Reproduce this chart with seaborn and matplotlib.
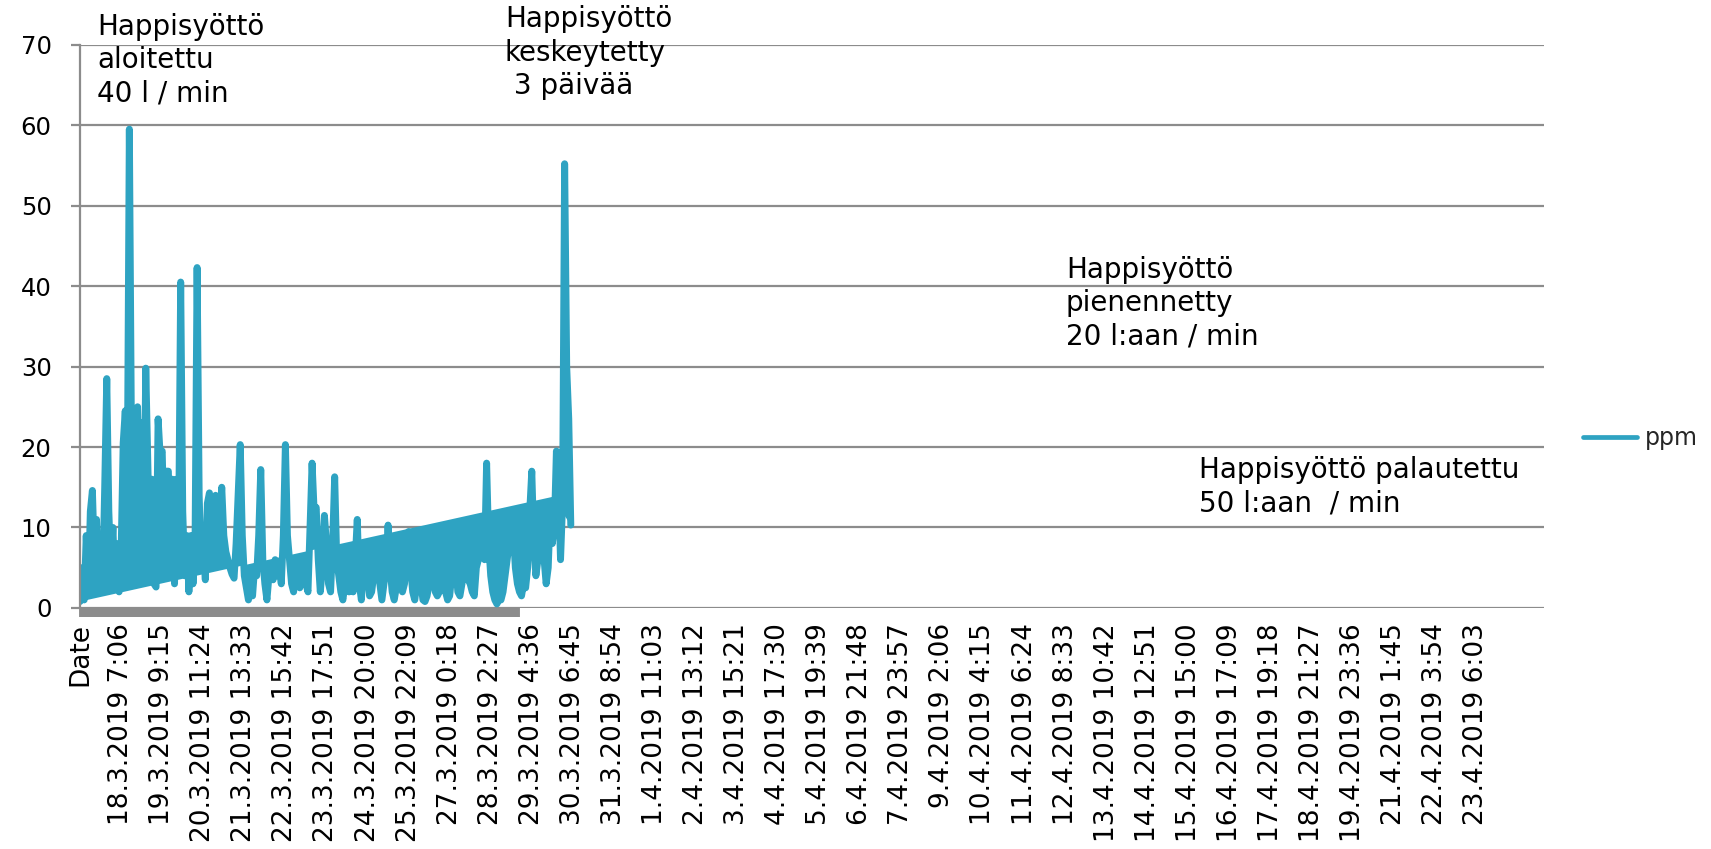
import numpy as np
import pandas as pd
import matplotlib
matplotlib.use("Agg")
import matplotlib.pyplot as plt
import seaborn as sns

# category labels shown on the x axis (every 20th row of the sheet)
date_labels = [
    "Date", "18.3.2019 7:06", "19.3.2019 9:15", "20.3.2019 11:24", "21.3.2019 13:33",
    "22.3.2019 15:42", "23.3.2019 17:51", "24.3.2019 20:00", "25.3.2019 22:09",
    "27.3.2019 0:18", "28.3.2019 2:27", "29.3.2019 4:36", "30.3.2019 6:45",
    "31.3.2019 8:54", "1.4.2019 11:03", "2.4.2019 13:12", "3.4.2019 15:21",
    "4.4.2019 17:30", "5.4.2019 19:39", "6.4.2019 21:48", "7.4.2019 23:57",
    "9.4.2019 2:06", "10.4.2019 4:15", "11.4.2019 6:24", "12.4.2019 8:33",
    "13.4.2019 10:42", "14.4.2019 12:51", "15.4.2019 15:00", "16.4.2019 17:09",
    "17.4.2019 19:18", "18.4.2019 21:27", "19.4.2019 23:36", "21.4.2019 1:45",
    "22.4.2019 3:54", "23.4.2019 6:03",
]
rows_per_label = 20
total_rows = 713

# ppm readings, one per row
ppm = [
    0.8, 5, 1, 9, 2, 12, 14.6, 6, 11, 2, 8, 3, 15, 28.5, 12, 5, 10, 2.5, 8, 2,
    7, 20.5, 24.5, 15, 59.5, 22, 10, 20, 25, 12, 23, 8, 29.8, 18, 6, 16, 3, 2.6, 23.5, 19,
    19.5, 8, 17, 17, 5, 16, 3, 16, 9, 40.5, 12, 4, 9, 2, 9, 3, 8, 42.3, 14, 5,
    8, 3.5, 13, 14.3, 7, 13.5, 14, 6, 10, 15, 9, 7, 6, 5, 4.2, 3.7, 8, 14, 20.3, 9,
    4, 2.5, 1, 3, 1.5, 5, 4, 9, 17.2, 6, 3, 1, 4, 5.5, 3.5, 6, 4, 5, 3, 9,
    20.3, 9, 6, 3, 2, 6, 3, 2.5, 6, 5, 3, 2, 10, 18, 12, 12.5, 6, 2, 5, 11.5,
    8, 3, 2, 8, 16.3, 6, 4, 2, 1, 3, 6, 2, 3.5, 2, 6, 11, 3, 1, 5, 7.8,
    4, 1.5, 2, 4, 5, 5, 3, 1, 3, 5, 10.3, 5, 2, 1, 2.5, 4.5, 4.5, 2, 3, 6,
    9.5, 5, 2, 1, 3, 5, 3, 1, 0.8, 1.5, 3, 6.5, 4, 2, 1.5, 2, 6.5, 5, 2, 1,
    1.5, 4, 4.5, 5, 2, 1.5, 3, 5, 6, 3.5, 3, 2, 1.5, 5, 6, 7, 8, 6, 18, 8,
    4, 2, 1, 0.5, 1, 1, 2, 4, 6, 8, 10, 9.5, 5, 3, 2, 1.5, 3, 2.5, 5, 12,
    17, 8, 4, 6, 11, 12.3, 6, 3, 5, 12, 8, 10, 19.5, 15, 6, 13, 55.2, 30, 23.5, 10.3,
]

# the jump back from the last row to the first one (sheet artefact)
trend_rows = [0, 230]
trend_ppm = [0.8, 13.8]
tick_rows = 214

notes = [
    "Happisyöttö\naloitettu\n40 l / min",
    "Happisyöttö\nkeskeytetty\n 3 päivää",
    "Happisyöttö\npienennetty\n20 l:aan / min",
    "Happisyöttö palautettu\n50 l:aan  / min",
]

sns.set_theme(style="white")
plt.rcParams["font.family"] = ["DejaVu Sans"]

line_color = "#2ea3c2"
grid_color = "#8c8c8c"

df = pd.DataFrame({"row": np.arange(len(ppm)), "ppm": ppm})

fig = plt.figure(figsize=(17.11, 8.49), dpi=100)
ax = fig.add_axes([0.0468, 0.2839, 0.8556, 0.6635])

ax.fill(np.r_[df["row"], trend_rows[::-1]], np.r_[df["ppm"], trend_ppm[::-1]],
        color=line_color, lw=0)
sns.lineplot(data=df, x="row", y="ppm", ax=ax, color=line_color, linewidth=5,
             estimator=None, label="ppm")
for ln in ax.lines:
    ln.set_solid_joinstyle("round")
    ln.set_solid_capstyle("round")

ax.set_ylim(0, 70)
ax.set_yticks(range(0, 80, 10))
ax.set_xlim(0, total_rows)
ax.set_xticks([i * rows_per_label for i in range(len(date_labels))])
ax.set_xticklabels(date_labels, rotation=90)
ax.set_xticks(np.arange(tick_rows) + 0.5, minor=True)
ax.set_xlabel("")
ax.set_ylabel("")

ax.yaxis.grid(True, color=grid_color, lw=1.6)
ax.xaxis.grid(False)
for s in ["top", "right", "bottom"]:
    ax.spines[s].set_visible(False)
ax.spines["left"].set_color(grid_color)
ax.spines["left"].set_linewidth(1.6)

ax.tick_params(axis="y", direction="out", length=6.5, width=1.6, color=grid_color,
               pad=14, labelsize=17.5, labelcolor="black", left=True)
ax.tick_params(axis="x", which="major", length=0, pad=11, labelsize=19,
               labelcolor="black")
ax.tick_params(axis="x", which="minor", direction="out", length=6.5, width=2.8,
               color=grid_color, bottom=True)

h, l = ax.get_legend_handles_labels()
leg = ax.legend(h, l, loc="center left", bbox_to_anchor=(0.9252, 0.4841),
                bbox_transform=fig.transFigure, frameon=False, fontsize=17,
                handlelength=2.3, handletextpad=0.3, borderpad=0, borderaxespad=0)
for lh in leg.get_lines():
    lh.set_linewidth(3.4)

note_xy = [(0.0567, 0.985), (0.2951, 0.994), (0.623, 0.699), (0.7008, 0.463)]
for txt, (nx, ny) in zip(notes, note_xy):
    fig.text(nx, ny, txt, fontsize=20, va="top", ha="left", linespacing=1.25,
             color="black")

fig.savefig("out.png", dpi=100)
